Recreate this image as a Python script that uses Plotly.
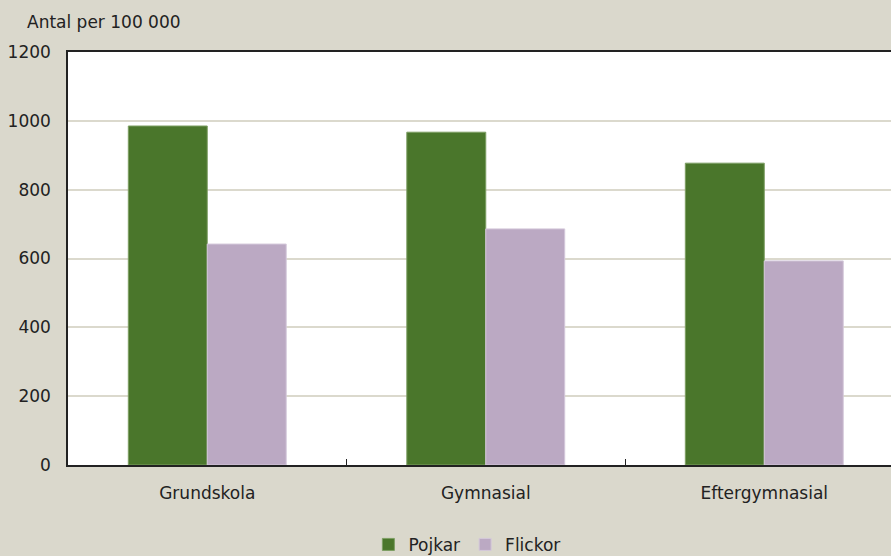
import plotly.graph_objects as go

# Education level categories and rates per 100 000
categories = ["Grundskola", "Gymnasial", "Eftergymnasial"]
pojkar = [985, 967, 877]
flickor = [642, 686, 593]
y_ticks = [0, 200, 400, 600, 800, 1000, 1200]

BG = "#dad8cc"
GREEN = "#4a762b"
LILAC = "#bba9c3"
FONT = "DejaVu Sans"

fig = go.Figure()
fig.add_trace(go.Bar(
    x=categories, y=pojkar, name="Pojkar",
    marker=dict(color=GREEN, line=dict(color="#7d9e63", width=1)),
))
fig.add_trace(go.Bar(
    x=categories, y=flickor, name="Flickor",
    marker=dict(color=LILAC, line=dict(color="#d4c8da", width=1)),
))

fig.update_layout(
    width=891, height=556,
    paper_bgcolor=BG, plot_bgcolor="white",
    margin=dict(l=68, r=0, t=52, b=91, autoexpand=False),
    barmode="group", bargap=0.433, bargroupgap=0,
    font=dict(family=FONT, size=17, color="#222222"),
    showlegend=True,
    legend=dict(orientation="h", x=0.524, xref="container", xanchor="center",
                y=0.02, yref="container", yanchor="middle",
                font=dict(size=17), itemwidth=30, traceorder="normal",
                bgcolor="rgba(0,0,0,0)"),
    annotations=[dict(text="Antal per 100 000", xref="paper", yref="paper",
                      x=-0.052, y=1.072, xanchor="left", yanchor="middle",
                      showarrow=False, font=dict(size=17))],
)
fig.update_xaxes(
    range=[-0.5, 2.455], showline=True, linecolor="#222222", linewidth=1.5,
    mirror=True, ticks="inside", tickson="boundaries", ticklen=6,
    tickcolor="#222222", showgrid=False, ticklabelstandoff=12,
)
fig.update_yaxes(
    range=[0, 1200], tickvals=y_ticks, showline=True, linecolor="#222222",
    linewidth=1.5, gridcolor="#dbd9cd", gridwidth=1.5, ticks="",
    ticklabelstandoff=12, zeroline=False,
)

fig.write_html("out.html")
